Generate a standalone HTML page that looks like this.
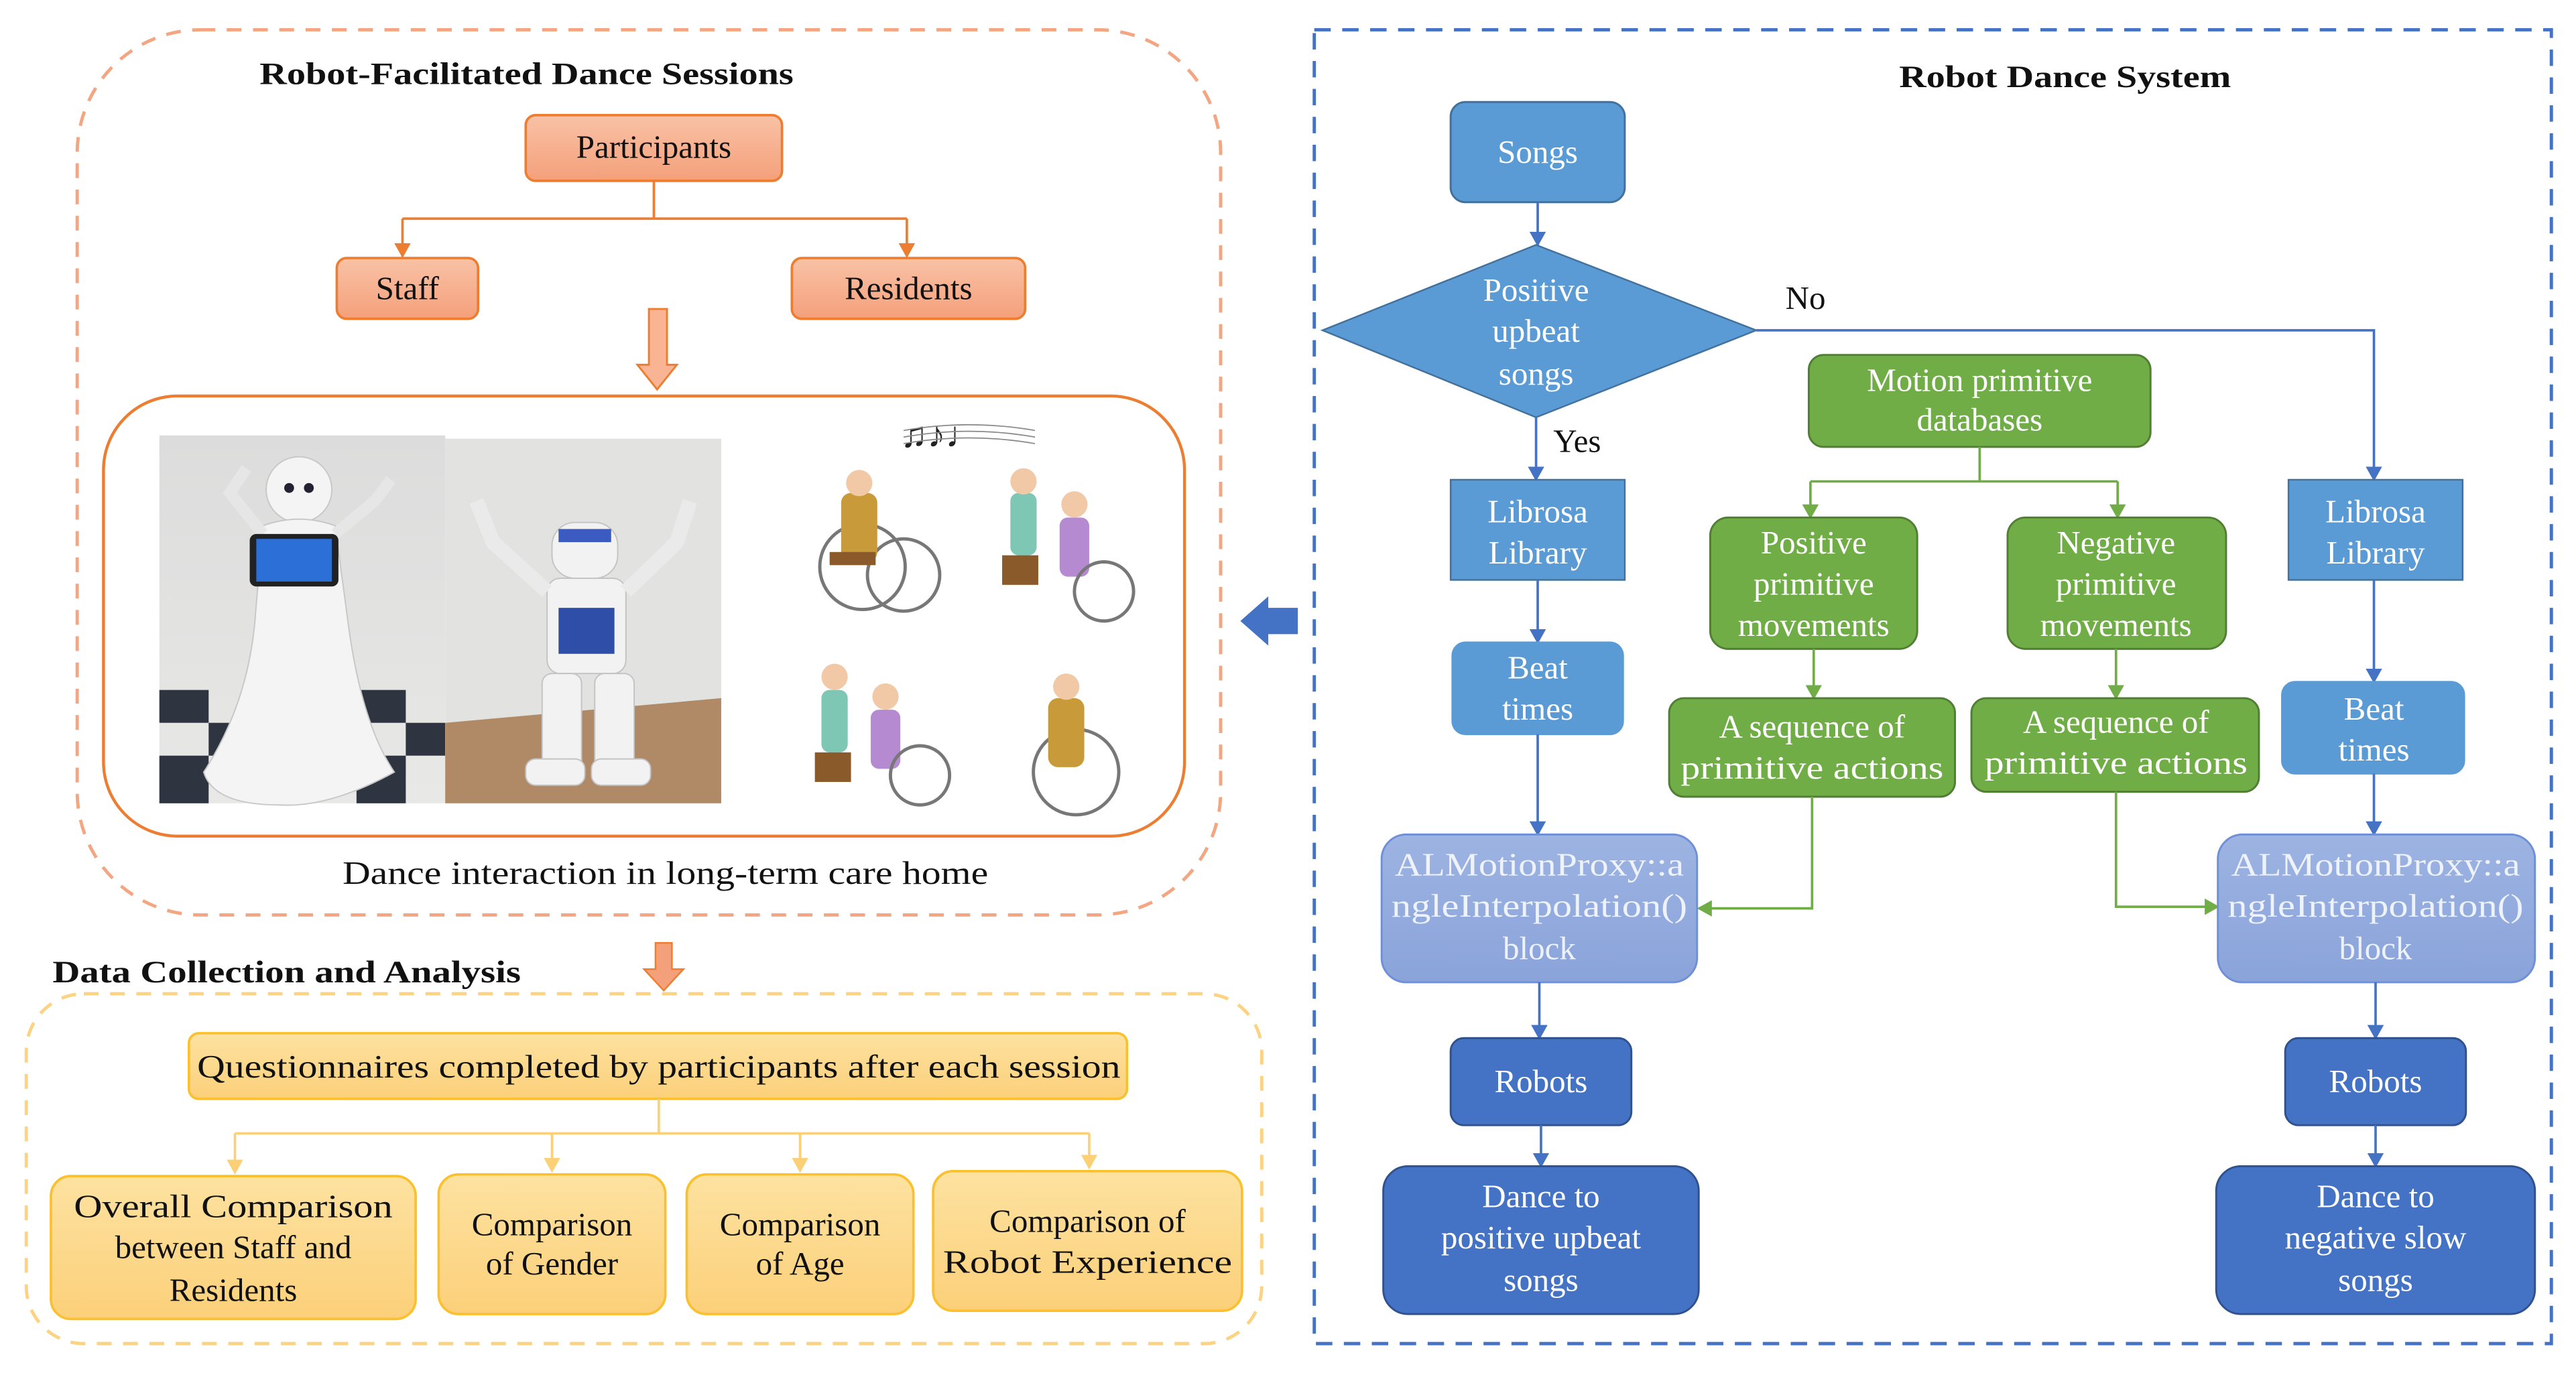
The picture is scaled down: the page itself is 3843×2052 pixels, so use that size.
<!DOCTYPE html>
<html><head><meta charset="utf-8"><style>
html,body{margin:0;padding:0;background:#fff;}
svg{display:block;}
text{font-family:"Liberation Serif",serif;}
.t{font-size:20px;text-anchor:middle;fill:#111;}
.w{font-size:20px;text-anchor:middle;fill:#fff;}
.l{font-size:20px;text-anchor:middle;fill:#eef2fb;}
.h{font-size:19px;font-weight:bold;fill:#111;}
</style></head><body>
<svg width="3843" height="2052" viewBox="0 0 1568 837" xmlns="http://www.w3.org/2000/svg">
<defs>
<marker id="ao" markerWidth="10" markerHeight="10" refX="8" refY="5" orient="auto" markerUnits="userSpaceOnUse"><path d="M0,0 L9,5 L0,10 z" fill="#ed7d31"/></marker>
<marker id="ay" markerWidth="10" markerHeight="10" refX="8" refY="5" orient="auto" markerUnits="userSpaceOnUse"><path d="M0,0 L9,5 L0,10 z" fill="#fbd077"/></marker>
<marker id="ab" markerWidth="10" markerHeight="10" refX="8" refY="5" orient="auto" markerUnits="userSpaceOnUse"><path d="M0,0 L9,5 L0,10 z" fill="#4472c4"/></marker>
<marker id="ag" markerWidth="10" markerHeight="10" refX="8" refY="5" orient="auto" markerUnits="userSpaceOnUse"><path d="M0,0 L9,5 L0,10 z" fill="#70ad47"/></marker>
<linearGradient id="og" x1="0" y1="0" x2="0" y2="1"><stop offset="0" stop-color="#f9c2a6"/><stop offset="1" stop-color="#f4a07a"/></linearGradient>
<linearGradient id="yg" x1="0" y1="0" x2="0" y2="1"><stop offset="0" stop-color="#fde2a0"/><stop offset="1" stop-color="#fcd07a"/></linearGradient>
<linearGradient id="pg" x1="0" y1="0" x2="0" y2="1"><stop offset="0" stop-color="#9db4e2"/><stop offset="1" stop-color="#8aa3da"/></linearGradient>
<linearGradient id="wall" x1="0" y1="0" x2="0" y2="1"><stop offset="0" stop-color="#dcdcdc"/><stop offset="1" stop-color="#e8e8e6"/></linearGradient>
</defs>

<rect x="47" y="18" width="696" height="539" rx="75" fill="none" stroke="#f4a582" stroke-width="2" stroke-dasharray="9,7"/>
<text class="h" x="158" y="51" textLength="325" lengthAdjust="spacingAndGlyphs">Robot-Facilitated Dance Sessions</text>
<rect x="320" y="70" width="156" height="40" rx="6" fill="url(#og)" stroke="#ed7d31" stroke-width="1.5"/>
<text class="t" x="398" y="96">Participants</text>
<path d="M398,110 V133 M245,133 H552" stroke="#ed7d31" stroke-width="1.5" fill="none"/>
<path d="M245,133 V156" stroke="#ed7d31" stroke-width="1.5" marker-end="url(#ao)"/>
<path d="M552,133 V156" stroke="#ed7d31" stroke-width="1.5" marker-end="url(#ao)"/>
<rect x="205" y="157" width="86" height="37" rx="6" fill="url(#og)" stroke="#ed7d31" stroke-width="1.5"/>
<text class="t" x="248" y="182">Staff</text>
<rect x="482" y="157" width="142" height="37" rx="6" fill="url(#og)" stroke="#ed7d31" stroke-width="1.5"/>
<text class="t" x="553" y="182">Residents</text>
<path d="M395,188 H406 V222 H412 L400,237 L388,222 H395 z" fill="#f9b494" stroke="#ed7d31" stroke-width="1.2"/>
<rect x="63" y="241" width="658" height="268" rx="45" fill="none" stroke="#ed7d31" stroke-width="1.8"/>
<rect x="97" y="265" width="174" height="224" fill="url(#wall)"/>
<g fill="#2f3540"><rect x="97" y="420" width="30" height="20"/><rect x="157" y="420" width="30" height="20"/><rect x="217" y="420" width="30" height="20"/><rect x="127" y="440" width="30" height="20"/><rect x="187" y="440" width="30" height="20"/><rect x="97" y="460" width="30" height="29"/><rect x="247" y="440" width="24" height="20"/><rect x="217" y="460" width="30" height="29"/></g>
<g fill="#f4f4f4" stroke="#c8c8c8" stroke-width="0.8">
<ellipse cx="182" cy="298" rx="20" ry="20"/>
<path d="M160,320 Q182,312 204,320 L212,380 Q220,440 240,470 Q200,492 170,490 Q130,490 124,470 Q150,430 155,380 z"/>
<path d="M160,325 L140,300 L150,285" fill="none" stroke="#e6e6e6" stroke-width="7"/>
<path d="M204,325 L228,305 L238,292" fill="none" stroke="#e6e6e6" stroke-width="7"/>
</g>
<rect x="152" y="325" width="54" height="32" rx="4" fill="#222"/><rect x="156" y="328" width="46" height="26" fill="#2c6fd6"/>
<circle cx="176" cy="297" r="3" fill="#223"/><circle cx="188" cy="297" r="3" fill="#223"/>
<rect x="271" y="267" width="168" height="222" fill="#e2e2e0"/>
<path d="M271,440 L439,425 L439,489 L271,489 z" fill="#b08a66"/>
<g fill="#f2f2f2" stroke="#c4c4c4" stroke-width="0.8">
<rect x="336" y="318" width="40" height="34" rx="14"/>
<rect x="333" y="352" width="48" height="58" rx="8"/>
<path d="M333,360 L300,330 L290,305" fill="none" stroke="#eaeaea" stroke-width="9"/>
<path d="M381,360 L412,330 L420,305" fill="none" stroke="#eaeaea" stroke-width="9"/>
<rect x="330" y="410" width="24" height="60" rx="6"/><rect x="362" y="410" width="24" height="60" rx="6"/>
<rect x="320" y="462" width="36" height="16" rx="6"/><rect x="360" y="462" width="36" height="16" rx="6"/>
</g>
<rect x="340" y="322" width="32" height="8" fill="#3c5bc0"/><rect x="340" y="370" width="34" height="28" fill="#2e4ea8"/>
<g font-size="22" fill="#222"><text x="548" y="272">♫♪♩</text></g>
<path d="M550,262 Q590,255 630,262 M550,266 Q590,259 630,266 M550,270 Q590,263 630,270" stroke="#888" stroke-width="0.7" fill="none"/>
<g>
<circle cx="525" cy="345" r="26" fill="none" stroke="#777" stroke-width="2"/><circle cx="550" cy="350" r="22" fill="none" stroke="#777" stroke-width="2"/>
<rect x="512" y="300" width="22" height="42" rx="6" fill="#c89a3a"/><circle cx="523" cy="294" r="8" fill="#f2c9a6"/><rect x="505" y="336" width="28" height="8" fill="#8a5a2a"/>
<rect x="615" y="300" width="16" height="38" rx="5" fill="#7fc7b5"/><circle cx="623" cy="293" r="8" fill="#f2c9a6"/><rect x="610" y="338" width="22" height="18" fill="#8a5a2a"/>
<rect x="645" y="315" width="18" height="36" rx="5" fill="#b58ad0"/><circle cx="654" cy="307" r="8" fill="#f2c9a6"/><circle cx="672" cy="360" r="18" fill="none" stroke="#777" stroke-width="2"/>
<rect x="500" y="420" width="16" height="38" rx="5" fill="#7fc7b5"/><circle cx="508" cy="412" r="8" fill="#f2c9a6"/><rect x="496" y="458" width="22" height="18" fill="#8a5a2a"/>
<rect x="530" y="432" width="18" height="36" rx="5" fill="#b58ad0"/><circle cx="539" cy="424" r="8" fill="#f2c9a6"/><circle cx="560" cy="472" r="18" fill="none" stroke="#777" stroke-width="2"/>
<circle cx="655" cy="470" r="26" fill="none" stroke="#777" stroke-width="2"/><rect x="638" y="425" width="22" height="42" rx="6" fill="#c89a3a"/><circle cx="649" cy="418" r="8" fill="#f2c9a6"/>
</g>
<text class="t" x="405" y="538" textLength="393" lengthAdjust="spacingAndGlyphs">Dance interaction in long-term care home</text>
<path d="M399,574 H409 V590 H416 L404,603 L392,590 H399 z" fill="#f4a07a" stroke="#ed7d31" stroke-width="1"/>
<text class="h" x="32" y="598" textLength="285" lengthAdjust="spacingAndGlyphs">Data Collection and Analysis</text>
<rect x="16" y="605" width="752" height="213" rx="35" fill="none" stroke="#fcd383" stroke-width="2" stroke-dasharray="9,7"/>
<rect x="115" y="629" width="571" height="40" rx="6" fill="url(#yg)" stroke="#fbc02d" stroke-width="1.5"/>
<text class="t" x="401" y="656" textLength="562" lengthAdjust="spacingAndGlyphs">Questionnaires completed by participants after each session</text>
<path d="M401,669 V690 M143,690 H663" stroke="#fbd077" stroke-width="1.5" fill="none"/>
<path d="M143,690 V714" stroke="#fbd077" stroke-width="1.5" marker-end="url(#ay)"/>
<path d="M336,690 V713" stroke="#fbd077" stroke-width="1.5" marker-end="url(#ay)"/>
<path d="M487,690 V713" stroke="#fbd077" stroke-width="1.5" marker-end="url(#ay)"/>
<path d="M663,690 V711" stroke="#fbd077" stroke-width="1.5" marker-end="url(#ay)"/>
<rect x="31" y="716" width="222" height="87" rx="12" fill="url(#yg)" stroke="#fbc02d" stroke-width="1.5"/>
<text class="t" x="142" y="741" textLength="194" lengthAdjust="spacingAndGlyphs">Overall Comparison</text>
<text class="t" x="142" y="766">between Staff and</text>
<text class="t" x="142" y="792">Residents</text>
<rect x="267" y="715" width="138" height="85" rx="12" fill="url(#yg)" stroke="#fbc02d" stroke-width="1.5"/>
<text class="t" x="336" y="752">Comparison</text><text class="t" x="336" y="776">of Gender</text>
<rect x="418" y="715" width="138" height="85" rx="12" fill="url(#yg)" stroke="#fbc02d" stroke-width="1.5"/>
<text class="t" x="487" y="752">Comparison</text><text class="t" x="487" y="776">of Age</text>
<rect x="568" y="713" width="188" height="85" rx="12" fill="url(#yg)" stroke="#fbc02d" stroke-width="1.5"/>
<text class="t" x="662" y="750">Comparison of</text>
<text class="t" x="662" y="775" textLength="176" lengthAdjust="spacingAndGlyphs">Robot Experience</text>

<path d="M790,370 H772 V363 L755,378 L772,393 V386 H790 z" fill="#4472c4"/>

<rect x="800" y="18" width="753" height="800" fill="none" stroke="#4472c4" stroke-width="2" stroke-dasharray="10,7"/>
<text class="h" x="1257" y="53" text-anchor="middle" textLength="202" lengthAdjust="spacingAndGlyphs">Robot Dance System</text>
<rect x="883" y="62" width="106" height="61" rx="9" fill="#5b9bd5" stroke="#41719c" stroke-width="1.2"/>
<text class="w" x="936" y="99">Songs</text>
<path d="M936,123 V149" stroke="#4472c4" stroke-width="1.5" marker-end="url(#ab)"/>
<polygon points="935,149 1069,201 935,254 805,201" fill="#5b9bd5" stroke="#41719c" stroke-width="1"/>
<text class="w" x="935" y="183">Positive</text><text class="w" x="935" y="208">upbeat</text><text class="w" x="935" y="234">songs</text>
<path d="M1069,201 H1445 V292" stroke="#4472c4" stroke-width="1.5" fill="none" marker-end="url(#ab)"/>
<text class="t" x="1099" y="188">No</text>
<path d="M935,254 V292" stroke="#4472c4" stroke-width="1.5" marker-end="url(#ab)"/>
<text class="t" x="960" y="275">Yes</text>
<rect x="883" y="292" width="106" height="61" fill="#5b9bd5" stroke="#41719c" stroke-width="1"/>
<text class="w" x="936" y="318">Librosa</text><text class="w" x="936" y="343">Library</text>
<rect x="1393" y="292" width="106" height="61" fill="#5b9bd5" stroke="#41719c" stroke-width="1"/>
<text class="w" x="1446" y="318">Librosa</text><text class="w" x="1446" y="343">Library</text>
<path d="M936,353 V391" stroke="#4472c4" stroke-width="1.5" marker-end="url(#ab)"/>
<path d="M1445,353 V415" stroke="#4472c4" stroke-width="1.5" marker-end="url(#ab)"/>
<rect x="884" y="391" width="104" height="56" rx="8" fill="#5b9bd5" stroke="#5b9bd5"/>
<text class="w" x="936" y="413">Beat</text><text class="w" x="936" y="438">times</text>
<rect x="1389" y="415" width="111" height="56" rx="8" fill="#5b9bd5" stroke="#5b9bd5"/>
<text class="w" x="1445" y="438">Beat</text><text class="w" x="1445" y="463">times</text>
<rect x="1101" y="216" width="208" height="56" rx="9" fill="#70ad47" stroke="#507e32" stroke-width="1.2"/>
<text class="w" x="1205" y="238">Motion primitive</text><text class="w" x="1205" y="262">databases</text>
<path d="M1205,272 V293 M1102,293 H1289" stroke="#70ad47" stroke-width="1.5" fill="none"/>
<path d="M1102,293 V315" stroke="#70ad47" stroke-width="1.5" marker-end="url(#ag)"/>
<path d="M1289,293 V315" stroke="#70ad47" stroke-width="1.5" marker-end="url(#ag)"/>
<rect x="1041" y="315" width="126" height="80" rx="11" fill="#70ad47" stroke="#507e32" stroke-width="1.2"/>
<text class="w" x="1104" y="337">Positive</text><text class="w" x="1104" y="362">primitive</text><text class="w" x="1104" y="387">movements</text>
<rect x="1222" y="315" width="133" height="80" rx="11" fill="#70ad47" stroke="#507e32" stroke-width="1.2"/>
<text class="w" x="1288" y="337">Negative</text><text class="w" x="1288" y="362">primitive</text><text class="w" x="1288" y="387">movements</text>
<path d="M1104,395 V425" stroke="#70ad47" stroke-width="1.5" marker-end="url(#ag)"/>
<path d="M1288,395 V425" stroke="#70ad47" stroke-width="1.5" marker-end="url(#ag)"/>
<rect x="1016" y="425" width="174" height="60" rx="9" fill="#70ad47" stroke="#507e32" stroke-width="1.2"/>
<text class="w" x="1103" y="449">A sequence of</text><text class="w" x="1103" y="474" textLength="160" lengthAdjust="spacingAndGlyphs">primitive actions</text>
<rect x="1200" y="425" width="175" height="57" rx="9" fill="#70ad47" stroke="#507e32" stroke-width="1.2"/>
<text class="w" x="1288" y="446">A sequence of</text><text class="w" x="1288" y="471" textLength="160" lengthAdjust="spacingAndGlyphs">primitive actions</text>
<path d="M1103,485 V553 H1034" stroke="#70ad47" stroke-width="1.5" fill="none" marker-end="url(#ag)"/>
<path d="M1288,482 V552 H1350" stroke="#70ad47" stroke-width="1.5" fill="none" marker-end="url(#ag)"/>
<path d="M936,447 V508" stroke="#4472c4" stroke-width="1.5" marker-end="url(#ab)"/>
<path d="M1445,471 V508" stroke="#4472c4" stroke-width="1.5" marker-end="url(#ab)"/>
<rect x="841" y="508" width="192" height="90" rx="15" fill="url(#pg)" stroke="#6f8fd6" stroke-width="1.2"/>
<text class="l" x="937" y="533" textLength="176" lengthAdjust="spacingAndGlyphs">ALMotionProxy::a</text>
<text class="l" x="937" y="558" textLength="180" lengthAdjust="spacingAndGlyphs">ngleInterpolation()</text>
<text class="l" x="937" y="584">block</text>
<rect x="1350" y="508" width="193" height="90" rx="15" fill="url(#pg)" stroke="#6f8fd6" stroke-width="1.2"/>
<text class="l" x="1446" y="533" textLength="176" lengthAdjust="spacingAndGlyphs">ALMotionProxy::a</text>
<text class="l" x="1446" y="558" textLength="180" lengthAdjust="spacingAndGlyphs">ngleInterpolation()</text>
<text class="l" x="1446" y="584">block</text>
<path d="M937,598 V632" stroke="#4472c4" stroke-width="1.5" marker-end="url(#ab)"/>
<path d="M1446,598 V632" stroke="#4472c4" stroke-width="1.5" marker-end="url(#ab)"/>
<rect x="883" y="632" width="110" height="53" rx="8" fill="#4472c4" stroke="#2f528f" stroke-width="1.2"/>
<text class="w" x="938" y="665">Robots</text>
<rect x="1391" y="632" width="110" height="53" rx="8" fill="#4472c4" stroke="#2f528f" stroke-width="1.2"/>
<text class="w" x="1446" y="665">Robots</text>
<path d="M938,685 V710" stroke="#4472c4" stroke-width="1.5" marker-end="url(#ab)"/>
<path d="M1446,685 V710" stroke="#4472c4" stroke-width="1.5" marker-end="url(#ab)"/>
<rect x="842" y="710" width="192" height="90" rx="15" fill="#4472c4" stroke="#2f528f" stroke-width="1.2"/>
<text class="w" x="938" y="735">Dance to</text><text class="w" x="938" y="760">positive upbeat</text><text class="w" x="938" y="786">songs</text>
<rect x="1349" y="710" width="194" height="90" rx="15" fill="#4472c4" stroke="#2f528f" stroke-width="1.2"/>
<text class="w" x="1446" y="735">Dance to</text><text class="w" x="1446" y="760">negative slow</text><text class="w" x="1446" y="786">songs</text>
</svg>
</body></html>
